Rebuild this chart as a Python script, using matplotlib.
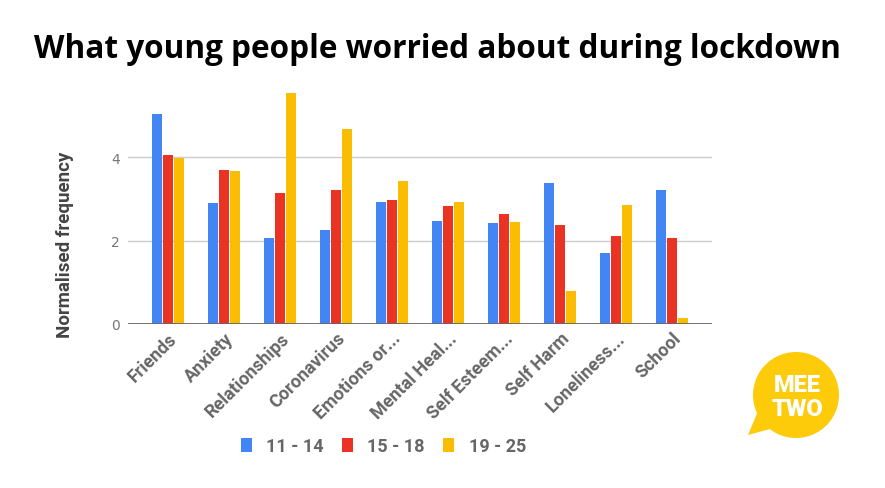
import numpy as np
import matplotlib.pyplot as plt
from matplotlib.patches import Circle, Polygon

# data
topics = ['Friends', 'Anxiety', 'Relationships', 'Coronavirus', 'Emotions or...',
          'Mental Heal...', 'Self Esteem...', 'Self Harm', 'Loneliness...', 'School']
age_11_14 = [5.02, 2.89, 2.05, 2.25, 2.92, 2.47, 2.42, 3.37, 1.70, 3.20]
age_15_18 = [4.06, 3.70, 3.14, 3.20, 2.97, 2.83, 2.64, 2.36, 2.11, 2.05]
age_19_25 = [3.98, 3.67, 5.54, 4.68, 3.42, 2.92, 2.44, 0.79, 2.86, 0.15]
series_names = ['11 - 14', '15 - 18', '19 - 25']
colors = ['#4285f4', '#ea3323', '#fbbc04']

fig = plt.figure(figsize=(8.85, 4.89), dpi=100)
ax = fig.add_axes([0.1446, 0.3354, 0.66, 0.4806])

x = np.arange(len(topics))
w = 0.17
step = 0.2
for i, vals in enumerate([age_11_14, age_15_18, age_19_25]):
    ax.bar(x + (i - 1) * step, vals, w, color=colors[i], label=series_names[i], zorder=3)

ax.set_xlim(-0.715, len(topics) - 0.285)
ax.set_ylim(0, 5.63)
ax.set_yticks([0, 2, 4])
ax.yaxis.grid(True, color='#cccccc', lw=1, zorder=0)
ax.axhline(0, color='#666666', lw=2, zorder=4)
for s in ax.spines.values():
    s.set_visible(False)
ax.tick_params(axis='both', length=0)
ax.tick_params(axis='y', labelsize=10, labelcolor='#777777', pad=6)
ax.set_xticks(x)
ax.set_xticklabels(topics, rotation=45, ha='right', rotation_mode='anchor',
                   fontsize=13, color='#666666', fontweight='bold', family='Roboto')
ax.set_ylabel('Normalised frequency', fontsize=13.5, color='#444444',
              fontweight='bold', family='Roboto')
ax.yaxis.set_label_coords(-0.093, 0.34)

fig.text(0.4944, 0.898, 'What young people worried about during lockdown',
         ha='center', va='center', fontsize=22.7, fontweight='bold', family='Open Sans')

leg = fig.legend(loc='center', bbox_to_anchor=(0.433, 0.086), ncol=3, frameon=False,
                 handlelength=0.62, handleheight=0.8, handletextpad=0.8, columnspacing=1.0,
                 prop={'family': 'Roboto', 'weight': 'bold', 'size': 13})
for t in leg.get_texts():
    t.set_color('#666666')

# MeeTwo logo
lax = fig.add_axes([0, 0, 1, 1], zorder=-1)
lax.set_xlim(0, 885)
lax.set_ylim(489, 0)
lax.axis('off')
lax.add_patch(Circle((796, 396), 43, color='#fdcb0a', ec='none'))
lax.add_patch(Polygon([[758, 412], [748, 436], [770, 430]], closed=True, color='#fdcb0a', ec='none'))
lax.text(797, 386, 'MEE', ha='center', va='center', color='white', fontsize=17,
         fontweight='heavy', family='Roboto')
lax.text(797, 409, 'TWO', ha='center', va='center', color='white', fontsize=17,
         fontweight='heavy', family='Roboto')

fig.savefig('out.png', dpi=100)
